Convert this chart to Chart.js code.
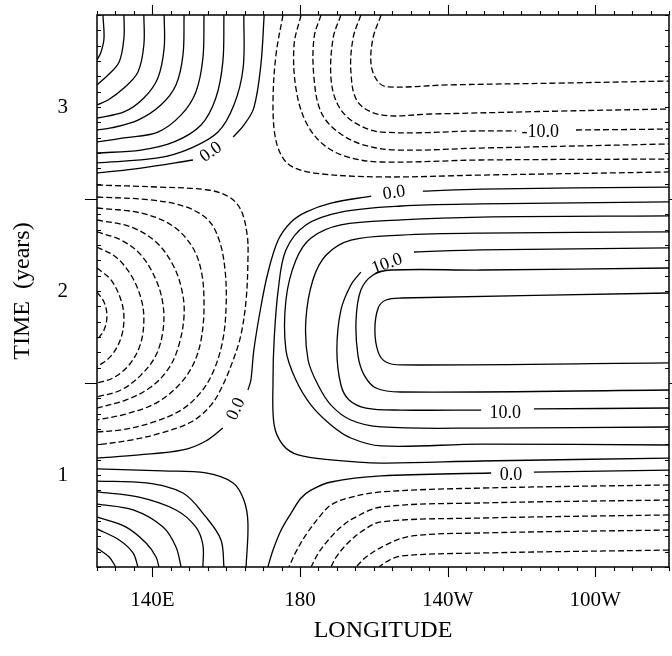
<!DOCTYPE html>
<html><head><meta charset="utf-8">
<script src="https://cdn.jsdelivr.net/npm/chart.js@4/dist/chart.umd.min.js"></script>
<style>html,body{margin:0;padding:0;background:#fff}#wrap{width:672px;height:656px}</style>
</head><body><div id="wrap"><canvas id="c" width="672" height="656"></canvas></div>
<script>
// ---------- axis ticks ----------
const xTickValues = [140, 180, 220, 260];
const xTickLabels = ['140E', '180', '140W', '100W'];
const yTickValues = [1, 2, 3];
const yTickLabels = ['1', '2', '3'];
const yMajorMarks = [1.5, 2.5];

// ---------- contour lines: [longitude (deg E), time (years)], null = label gap ----------
// upper-west positive region (solid)
const upperWestLevels = [20, 17.5, 15, 12.5, 10, 7.5, 5, 2.5, 0];
const upperWestLines = [
  [[126.6,3.5],[126.9,3.375],[126.1,3.299],[125,3.255]],
  [[132.3,3.5],[132.3,3.375],[131.0,3.245],[128.0,3.174],[125,3.120]],
  [[137.7,3.5],[137.7,3.337],[136.1,3.190],[132.3,3.103],[128.0,3.038],[125,3.011]],
  [[143.2,3.5],[143.2,3.321],[141.5,3.158],[137.7,3.049],[132.3,2.973],[125,2.940]],
  [[148.6,3.5],[148.3,3.283],[146.4,3.120],[142.3,3.011],[136.1,2.929],[128.8,2.886],[125,2.875]],
  [[154.0,3.5],[153.7,3.266],[151.8,3.082],[147.8,2.957],[141.5,2.864],[132.3,2.832],[125,2.810]],
  [[159.4,3.5],[159.1,3.245],[157.2,3.049],[153.2,2.902],[145.9,2.810],[136.9,2.766],[125,2.750]],
  [[164.8,3.5],[164.6,3.212],[162.1,3.011],[157.8,2.864],[150.5,2.777],[141.5,2.723],[125,2.696]],
  [[170.3,3.5],[169.4,3.228],[167.5,2.995],[164.8,2.902],[161.9,2.837],null,[151.0,2.712],[136.9,2.668],[125,2.641]]
];
// middle-west negative region (dashed)
const midWestLevels = [-2.5, -5, -7.5, -10, -12.5, -15, -17.5, -20];
const midWestLines = [
  [[125,2.576],[141.5,2.565],[155.1,2.549],[160.8,2.511],[164.0,2.440],[165.7,2.304],[165.9,2.168],[165.4,1.951],[164.0,1.761],[161.9,1.625],[159.1,1.489],[155.9,1.380],[150.5,1.288],[142.3,1.228],[134.2,1.190],[125,1.163]],
  [[125,2.511],[139.6,2.495],[149.1,2.457],[155.1,2.386],[158.1,2.277],[159.7,2.114],[160.0,1.924],[159.1,1.734],[156.7,1.571],[153.2,1.451],[147.8,1.353],[139.6,1.283],[131.5,1.245],[125,1.234]],
  [[125,2.451],[136.9,2.424],[145.1,2.359],[150.5,2.250],[153.2,2.114],[154.0,1.924],[153.2,1.734],[151.0,1.598],[147.2,1.489],[141.0,1.391],[132.9,1.332],[125,1.299]],
  [[125,2.386],[134.2,2.348],[141.0,2.266],[145.6,2.141],[148.0,2.005],[148.6,1.870],[147.2,1.707],[144.5,1.582],[139.6,1.478],[132.9,1.408],[125,1.364]],
  [[125,2.321],[131.5,2.277],[136.9,2.196],[141.0,2.060],[142.9,1.924],[142.9,1.788],[141.0,1.652],[136.9,1.543],[131.5,1.462],[125,1.424]],
  [[125,2.239],[130.1,2.185],[134.2,2.087],[136.9,1.962],[137.7,1.842],[136.7,1.707],[133.7,1.598],[129.3,1.527],[125,1.500]],
  [[125,2.125],[128.8,2.060],[131.5,1.951],[132.3,1.853],[131.5,1.745],[128.8,1.647],[125,1.587]],
  [[125,1.995],[126.9,1.940],[127.7,1.864],[126.9,1.788],[125,1.734]]
];
// upper-east negative region (dashed)
const upperEastLevels = [-2.5, -5, -7.5, -10, -12.5, -15];
const upperEastLines = [
  [[175.4,3.5],[173.5,3.283],[172.7,3.038],[173.2,2.848],[174.9,2.739],[177.6,2.679],[183.8,2.641],[202.0,2.620],[229.1,2.630],[280,2.647]],
  [[180.3,3.5],[178.4,3.337],[178.9,3.103],[181.6,2.918],[186.5,2.793],[193.0,2.728],[202.0,2.701],[229.1,2.712],[280,2.717]],
  [[185.7,3.5],[183.8,3.375],[183.8,3.158],[185.7,2.973],[190.3,2.864],[197.4,2.793],[206.6,2.766],[229.1,2.777],[280,2.799]],
  [[191.1,3.5],[189.0,3.375],[188.4,3.158],[190.3,3.011],[194.6,2.918],[202.0,2.864],[229.1,2.870],[238.6,2.870],null,[254.8,2.875],[280,2.880]],
  [[196.5,3.5],[194.4,3.375],[193.8,3.190],[195.7,3.027],[202.0,2.957],[215.5,2.962],[250.7,2.978],[280,2.989]],
  [[202.0,3.5],[199.8,3.375],[199.3,3.228],[201.2,3.136],[203.9,3.109],[220.1,3.120],[250.7,3.130],[280,3.141]]
];
// middle-east positive region (solid)
const midEastLevels = [0, 2.5, 5, 7.5, 10, 12.5, 15];
const midEastLines = [
  [[280,2.565],[229.1,2.554],[213.3,2.543],null,[199.3,2.516],[188.4,2.478],[181.6,2.429],[177.6,2.375],[174.1,2.277],[171.3,2.098],[169.4,1.913],[167.5,1.679],[166.7,1.516],[165.9,1.462],null,[159.1,1.255],[154.5,1.185],[148.3,1.136],[136.4,1.109],[125,1.092]],
  [[280,2.484],[229.1,2.473],[207.4,2.462],[191.1,2.429],[181.6,2.359],[176.2,2.223],[174.1,2.005],[173.0,1.734],[172.7,1.516],[173.0,1.272],[175.4,1.163],[179.5,1.109],[188.4,1.082],[202.0,1.065],[229.1,1.076],[280,1.092]],
  [[280,2.408],[229.1,2.402],[207.4,2.386],[191.1,2.359],[183.0,2.288],[178.9,2.168],[176.2,1.951],[176.2,1.679],[178.9,1.516],[183.0,1.380],[188.4,1.272],[193.8,1.201],[202.0,1.158],[229.1,1.168],[280,1.163]],
  [[280,2.321],[229.1,2.315],[207.4,2.304],[193.8,2.277],[187.1,2.196],[183.5,2.060],[181.6,1.842],[182.2,1.625],[184.9,1.489],[188.4,1.380],[193.8,1.299],[202.0,1.261],[229.1,1.255],[280,1.261]],
  [[280,2.234],[229.1,2.223],[210.9,2.212],null,[196.5,2.103],[193.8,2.033],[191.1,1.897],[190.0,1.679],[191.1,1.489],[193.3,1.408],[197.9,1.364],[207.4,1.353],[229.1,1.353],null,[243.4,1.359],[280,1.364]],
  [[280,2.125],[229.1,2.114],[204.7,2.114],[199.8,2.087],[196.5,2.005],[195.2,1.842],[195.7,1.652],[197.4,1.543],[200.6,1.473],[207.4,1.451],[280,1.462]],
  [[280,1.989],[207.4,1.962],[203.3,1.951],[201.2,1.908],[200.3,1.788],[201.2,1.668],[203.3,1.614],[207.4,1.598],[280,1.609]]
];
// lower-east region: zero line (solid) and negative lines (dashed)
const lowerEastLevels = [0, -2.5, -5, -7.5, -10, -12.5];
const lowerEastLines = [
  [[280,1.027],[243.4,1.016],null,[231.8,1.011],[202.0,0.995],[188.4,0.962],[183.0,0.918],[180.3,0.875],[177.6,0.793],[174.9,0.701],[172.7,0.592],[171.3,0.5]],
  [[280,0.946],[229.1,0.929],[202.0,0.908],[193.0,0.875],[188.4,0.837],[185.7,0.783],[181.6,0.674],[178.9,0.582],[177.0,0.5]],
  [[280,0.864],[229.1,0.848],[202.0,0.826],[194.6,0.766],[191.1,0.717],[188.4,0.663],[185.2,0.582],[183.0,0.5]],
  [[280,0.783],[229.1,0.766],[202.0,0.745],[196.5,0.690],[192.5,0.620],[189.8,0.554],[188.4,0.5]],
  [[280,0.701],[229.1,0.685],[210.1,0.668],[203.3,0.620],[197.9,0.554],[195.2,0.5]],
  [[280,0.592],[229.1,0.576],[207.4,0.560],[203.3,0.527],[201.4,0.5]]
];
// lower-west positive region (solid)
const lowerWestLevels = [2.5, 5, 7.5, 10, 12.5, 15, 17.5];
const lowerWestLines = [
  [[125,1.033],[142.9,1.022],[154.5,1.011],[161.9,0.957],[164.8,0.864],[165.9,0.739],[165.4,0.5]],
  [[125,0.967],[138.3,0.957],[148.3,0.902],[154.5,0.772],[158.6,0.647],[159.4,0.5]],
  [[125,0.908],[136.4,0.880],[146.4,0.810],[151.8,0.717],[153.7,0.620],[153.7,0.5]],
  [[125,0.842],[134.8,0.810],[142.9,0.717],[146.4,0.609],[147.8,0.5]],
  [[125,0.772],[132.9,0.717],[138.3,0.630],[141.0,0.554],[141.8,0.5]],
  [[125,0.707],[131.0,0.647],[134.8,0.576],[136.1,0.5]],
  [[125,0.603],[128.3,0.554],[130.1,0.5]]
];

// contour labels
const labelTexts = ['0.0', '0.0', '-10.0', '10.0', '0.0', '10.0', '0.0'];
const labelLon   = [155.9, 205.5, 245.1, 203.6, 162.7, 235.6, 237.2];
const labelTime  = [2.755, 2.533, 2.864, 2.147, 1.359, 1.337, 1.000];
const labelAngle = [-35, -8, 0, -20, -65, 0, 0];

// ---------- build datasets ----------
const datasets = [];
function addGroup(levels, lines) {
  lines.forEach((pts, i) => {
    const neg = levels[i] < 0;
    let lastX = 125;
    datasets.push({
      label: String(levels[i]),
      data: pts.map(p => { if (p) { lastX = p[0]; return {x: p[0], y: p[1]}; } return {x: lastX, y: null}; }),
      showLine: true,
      borderColor: '#000',
      borderWidth: 1.3,
      borderDash: neg ? [6, 3] : [],
      pointRadius: 0,
      pointHoverRadius: 0,
      tension: 0.35,
      fill: false,
      spanGaps: false
    });
  });
}
addGroup(upperWestLevels, upperWestLines);
addGroup(midWestLevels, midWestLines);
addGroup(upperEastLevels, upperEastLines);
addGroup(midEastLevels, midEastLines);
addGroup(lowerEastLevels, lowerEastLines);
addGroup(lowerWestLevels, lowerWestLines);

const SERIF = '"Liberation Serif", "DejaVu Serif", serif';

const framePlugin = {
  id: 'frameTicks',
  afterDatasetsDraw(chart) {
    const {ctx, chartArea: a, scales: {x, y}} = chart;
    ctx.save();
    ctx.strokeStyle = '#000';
    ctx.lineWidth = 1.5;
    ctx.strokeRect(a.left, a.top, a.right - a.left, a.bottom - a.top);
    ctx.lineWidth = 1.1;
    ctx.beginPath();
    for (let v = 125; v <= 280; v += 5) {
      const px = Math.round(x.getPixelForValue(v)) + 0.5;
      const L = xTickValues.includes(v) ? 10 : 4;
      ctx.moveTo(px, a.bottom); ctx.lineTo(px, a.bottom + L);
      ctx.moveTo(px, a.top); ctx.lineTo(px, a.top - L);
    }
    for (let m = 6; m <= 42; m++) {
      const v = m / 12;
      const py = Math.round(y.getPixelForValue(v)) + 0.5;
      const major = yMajorMarks.some(t => Math.abs(t - v) < 1e-6);
      if (major) {
        ctx.moveTo(a.left, py); ctx.lineTo(a.left - 12, py);
        ctx.moveTo(a.right, py); ctx.lineTo(a.right + 4, py);
      } else {
        ctx.moveTo(a.left, py); ctx.lineTo(a.left + 4, py);
        ctx.moveTo(a.right, py); ctx.lineTo(a.right - 4, py);
      }
    }
    ctx.stroke();
    // contour labels
    ctx.fillStyle = '#000';
    ctx.font = '18px ' + SERIF;
    ctx.textAlign = 'center';
    ctx.textBaseline = 'middle';
    labelTexts.forEach((t, i) => {
      const px = x.getPixelForValue(labelLon[i]);
      const py = y.getPixelForValue(labelTime[i]);
      ctx.save();
      ctx.translate(px, py);
      ctx.rotate(labelAngle[i] * Math.PI / 180);
      ctx.fillText(t, 0, 0);
      ctx.restore();
    });
    ctx.restore();
  }
};

new Chart(document.getElementById('c'), {
  type: 'scatter',
  data: { datasets },
  options: {
    responsive: false,
    devicePixelRatio: 1,
    animation: false,
    events: [],
    layout: { padding: { top: 15, right: 3, left: 0, bottom: 0 } },
    plugins: { legend: { display: false }, tooltip: { enabled: false } },
    scales: {
      x: {
        type: 'linear', min: 125, max: 280,
        afterBuildTicks: s => { s.ticks = xTickValues.map(v => ({ value: v })); },
        afterFit: s => { s.height = 89; s.paddingLeft = 0; s.paddingRight = 0; },
        grid: { display: false, drawTicks: false },
        border: { display: false },
        ticks: {
          autoSkip: false, maxRotation: 0, padding: 21, color: '#000',
          font: { family: SERIF, size: 21 },
          callback: (v) => xTickLabels[xTickValues.indexOf(v)]
        },
        title: { display: true, text: 'LONGITUDE', color: '#000', font: { family: SERIF, size: 24 }, padding: { top: 0, bottom: 11 } }
      },
      y: {
        type: 'linear', min: 0.5, max: 3.5,
        afterBuildTicks: s => { s.ticks = yTickValues.map(v => ({ value: v })); },
        afterFit: s => { s.width = 97; s.paddingTop = 0; s.paddingBottom = 0; },
        grid: { display: false, drawTicks: false },
        border: { display: false },
        ticks: {
          autoSkip: false, padding: 29, color: '#000',
          font: { family: SERIF, size: 21 },
          callback: (v) => yTickLabels[yTickValues.indexOf(v)]
        },
        title: { display: true, text: 'TIME  (years)', color: '#000', font: { family: SERIF, size: 24 }, padding: { top: 8, bottom: 0 } }
      }
    }
  },
  plugins: [framePlugin]
});
</script></body></html>
